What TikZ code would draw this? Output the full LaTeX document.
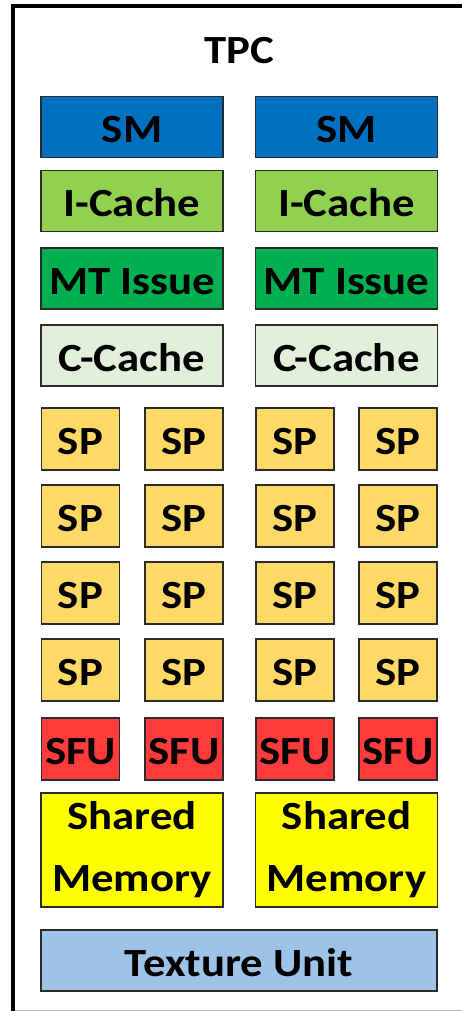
\documentclass[tikz,border=0pt]{standalone}
\usepackage{fontspec}
\setmainfont{Carlito}[FakeStretch=1.12]
\definecolor{boxline}{HTML}{2B2B2B}
\definecolor{smblue}{HTML}{0070C0}
\definecolor{icache}{HTML}{92D050}
\definecolor{mtissue}{HTML}{00B050}
\definecolor{ccache}{HTML}{E2EFDA}
\definecolor{spgold}{HTML}{FFD966}
\definecolor{sfured}{HTML}{FF3B3B}
\definecolor{shmem}{HTML}{FFFF00}
\definecolor{texunit}{HTML}{9DC3E6}
\begin{document}
\begin{tikzpicture}[x=1pt,y=-1pt,
  unit/.style={draw=boxline, line width=1.8pt, inner sep=0pt,
    font=\bfseries\fontsize{40}{62}\selectfont, text height=31pt, text depth=0pt, align=center},
  wide/.style={unit, minimum width=182pt, minimum height=61pt},
  small/.style={unit, minimum width=78pt, minimum height=62pt},
  memory/.style={draw=boxline, line width=1.8pt, inner sep=0pt, align=center,
    font=\bfseries\fontsize{40}{62}\selectfont, minimum width=182pt, minimum height=114pt, fill=shmem}
]
\useasboundingbox (0,0) rectangle (462,1011);
\fill[white] (0,0) rectangle (462,1011);

% enclosing TPC frame: heavy left and top edges, thin bottom edge
\draw[gray!60, line width=0.8pt] (12.5,1010) -- (462,1010);
\draw[line width=4pt] (12.5,1011) -- (12.5,6.5) -- (462,6.5);

\node[font=\bfseries\fontsize{40}{48}\selectfont, text height=26pt, text depth=0pt, inner sep=0pt] (tpc) at (239,50.5) {TPC};

% two streaming multiprocessors, one per column
\foreach \side/\cx in {L/132, R/346.5} {
  \node[wide, fill=smblue]  (sm\side) at (\cx,127)   {SM};
  \node[wide, fill=icache]  (ic\side) at (\cx,201)   {I-Cache};
  \node[wide, fill=mtissue] (mt\side) at (\cx,278.5) {MT Issue};
  \node[wide, fill=ccache]  (cc\side) at (\cx,355.5) {C-Cache};
  \node[memory] (shm\side) at (\cx,850) {Shared\\Memory};
}

% scalar processors and special function units
\foreach \col/\cx in {1/80.5, 2/184, 3/295, 4/398} {
  \foreach \row/\cy in {1/439, 2/516, 3/593, 4/670} {
    \node[small, fill=spgold] (sp\col\row) at (\cx,\cy) {SP};
  }
  \node[small, fill=sfured] (sfu\col) at (\cx,749) {SFU};
}

\node[unit, fill=texunit, minimum width=396pt, minimum height=61pt] (tex) at (239,960.5) {Texture Unit};
\end{tikzpicture}
\end{document}
